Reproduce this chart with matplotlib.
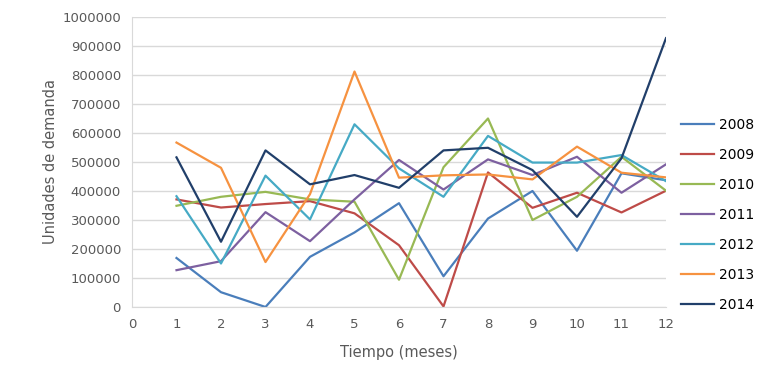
import numpy as np
import matplotlib
matplotlib.use('Agg')
import matplotlib.pyplot as plt

#---------------------------------------------------------------------
# datos de demanda mensual por año
#---------------------------------------------------------------------
meses = np.arange(1, 13)
anios = ['2008', '2009', '2010', '2011', '2012', '2013', '2014']

d2008 = [169000, 51000, 0, 173000, 257000, 358000, 106000, 305000, 400000, 194000, 461000, 437000]
d2009 = [371000, 343000, 355000, 365000, 323000, 213000, 2000, 464000, 342000, 394000, 326000, 401000]
d2010 = [349000, 380000, 397000, 371000, 363000, 94000, 482000, 650000, 300000, 380000, 518000, 401000]
d2011 = [127000, 158000, 327000, 227000, 371000, 507000, 405000, 509000, 455000, 518000, 394000, 492000]
d2012 = [382000, 150000, 453000, 302000, 630000, 478000, 380000, 590000, 498000, 498000, 524000, 434000]
d2013 = [567000, 480000, 155000, 389000, 812000, 446000, 454000, 457000, 440000, 553000, 463000, 447000]
d2014 = [516000, 225000, 540000, 423000, 455000, 411000, 540000, 549000, 472000, 311000, 513000, 927000]

series = [d2008, d2009, d2010, d2011, d2012, d2013, d2014]
colores = ['#4A7EBB', '#BE4B48', '#98B954', '#7D60A0', '#46AAC5', '#F69240', '#213F6A']

#---------------------------------------------------------------------
fig = plt.figure(figsize=[7.66, 3.85], dpi=100)
ax = fig.add_axes([132/766, 1-307/385, (666-132)/766, (307-17)/385])

for s in range(len(series)):
    ax.plot(meses, series[s], color=colores[s], lw=1.6, label=anios[s])

ax.set_xlim(0, 12)
ax.set_ylim(0, 1000000)
ax.set_xticks(np.arange(0, 13))
ax.set_yticks(np.arange(0, 1000001, 100000))
ax.set_yticklabels([str(v) for v in range(0, 1000001, 100000)])
ax.grid(axis='y', color='#D9D9D9', lw=1)
ax.set_axisbelow(True)
for sp in ['top', 'right']:
    ax.spines[sp].set_visible(False)
ax.spines['left'].set_color('#D9D9D9')
ax.spines['bottom'].set_color('#D9D9D9')
ax.tick_params(length=0, colors='#595959', labelsize=9.5, pad=8)

ax.set_xlabel('Tiempo (meses)', color='#595959', fontsize=10.5, labelpad=10)
ax.set_ylabel('Unidades de demanda', color='#595959', fontsize=10.5, labelpad=3)

leg = fig.legend(loc='center left', bbox_to_anchor=(668/766, 1-215/385), frameon=False,
                 fontsize=10, handlelength=2.4, handletextpad=0.35, labelspacing=1.15)

fig.savefig('out.png', dpi=100)
